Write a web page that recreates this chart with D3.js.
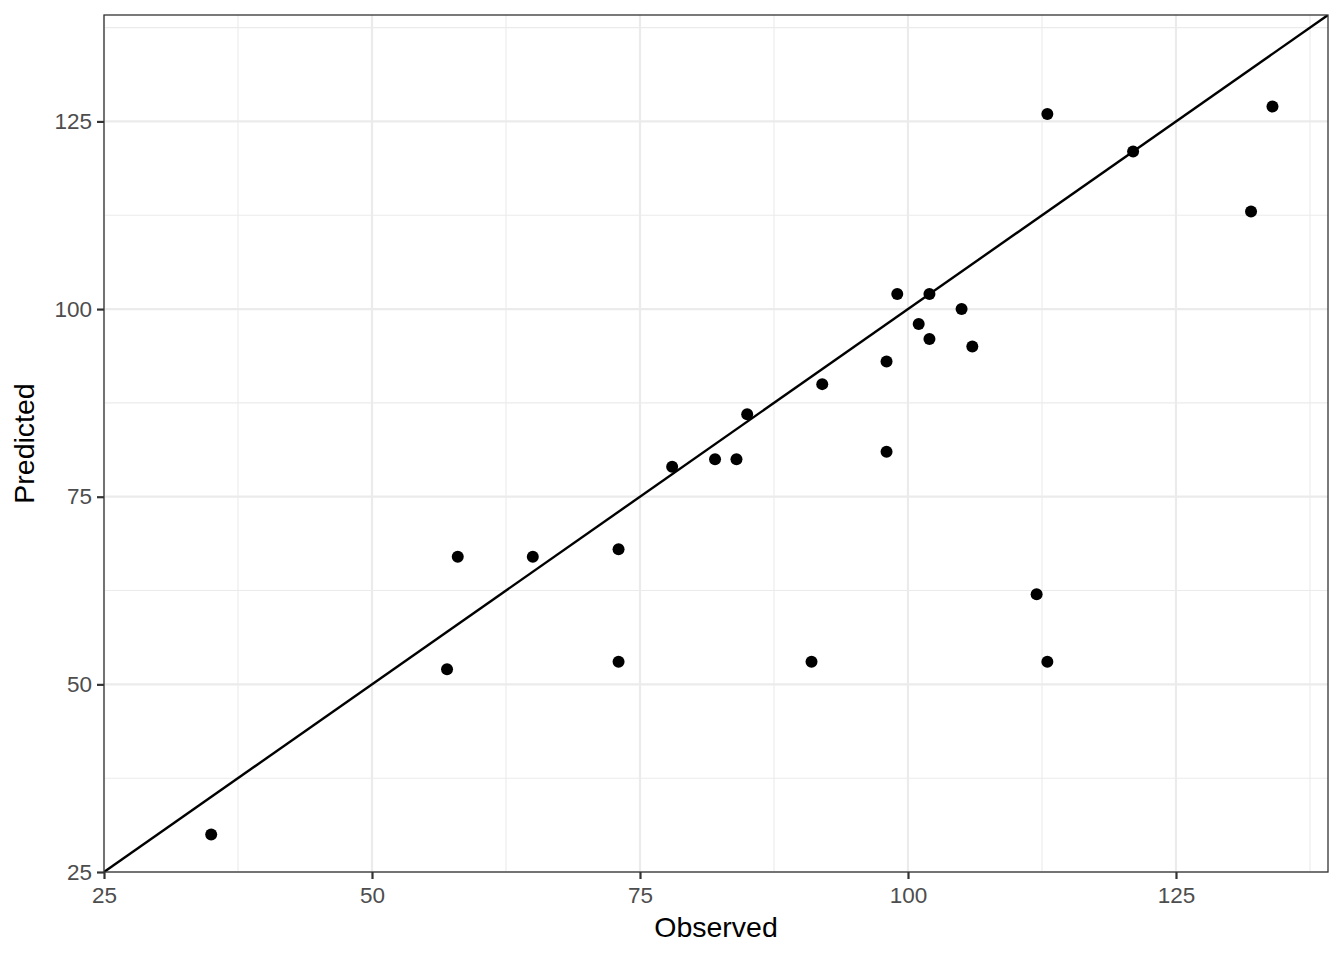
<!DOCTYPE html>
<html><head><meta charset="utf-8">
<script src="https://cdn.jsdelivr.net/npm/d3@7"></script>
<style>body{margin:0;background:#fff;} text{font-family:"Liberation Sans",Arial,sans-serif;}</style>
</head><body>
<svg id="chart" width="1344" height="960"></svg>
<script>
const observed = [35,57,58,65,73,73,78,82,84,85,91,92,98,98,99,101,102,102,105,106,112,113,113,121,132,134];
const predicted = [30,52,67,67,68,53,79,80,80,86,53,90,93,81,102,98,102,96,100,95,62,126,53,121,113,127];
const majorTicks = [25,50,75,100,125];
const minorTicks = [37.5,62.5,87.5,112.5,137.5];
const domain = [25,139.18];

const svg = d3.select("#chart");
const L=104,R=1328,T=15,B=872;
const x = d3.scaleLinear().domain(domain).range([L,R]);
const y = d3.scaleLinear().domain(domain).range([B,T]);

const g = svg.append("g");
g.append("rect").attr("x",L).attr("y",T).attr("width",R-L).attr("height",B-T).attr("fill","#fff");
// minor grid
g.selectAll(".mx").data(minorTicks.filter(d=>d<=domain[1])).enter().append("line")
  .attr("x1",d=>x(d)).attr("x2",d=>x(d)).attr("y1",T).attr("y2",B).attr("stroke","#ebebeb").attr("stroke-width",1.1);
g.selectAll(".my").data(minorTicks.filter(d=>d<=domain[1])).enter().append("line")
  .attr("y1",d=>y(d)).attr("y2",d=>y(d)).attr("x1",L).attr("x2",R).attr("stroke","#ebebeb").attr("stroke-width",1.1);
// major grid
g.selectAll(".Mx").data(majorTicks).enter().append("line")
  .attr("x1",d=>x(d)).attr("x2",d=>x(d)).attr("y1",T).attr("y2",B).attr("stroke","#ebebeb").attr("stroke-width",2.2);
g.selectAll(".My").data(majorTicks).enter().append("line")
  .attr("y1",d=>y(d)).attr("y2",d=>y(d)).attr("x1",L).attr("x2",R).attr("stroke","#ebebeb").attr("stroke-width",2.2);

// identity line
svg.append("defs").append("clipPath").attr("id","clip").append("rect").attr("x",L).attr("y",T).attr("width",R-L).attr("height",B-T);
g.append("line").attr("clip-path","url(#clip)")
  .attr("x1",x(domain[0])).attr("y1",y(domain[0])).attr("x2",x(domain[1])).attr("y2",y(domain[1]))
  .attr("stroke","#000").attr("stroke-width",2.4);

// points
g.selectAll(".pt").data(observed.map((o,i)=>({o,p:predicted[i]}))).enter().append("circle")
  .attr("cx",d=>x(d.o)).attr("cy",d=>y(d.p)).attr("r",6).attr("fill","#000");

// border
g.append("rect").attr("x",L).attr("y",T).attr("width",R-L).attr("height",B-T).attr("fill","none").attr("stroke","#333").attr("stroke-width",1.3);

// axes
const xAxis = d3.axisBottom(x).tickValues(majorTicks).tickSize(7).tickPadding(8);
const yAxis = d3.axisLeft(y).tickValues(majorTicks).tickSize(7).tickPadding(5);
const xa = svg.append("g").attr("transform",`translate(0,${B})`).call(xAxis);
const ya = svg.append("g").attr("transform",`translate(${L},0)`).call(yAxis);
[xa,ya].forEach(a=>{
  a.select(".domain").remove();
  a.selectAll(".tick line").attr("stroke","#333").attr("stroke-width",2.2);
  a.selectAll(".tick text").attr("fill","#4d4d4d").style("font-size","22.5px").style("font-family","Liberation Sans, Arial, sans-serif");
});

svg.append("text").attr("x",(L+R)/2).attr("y",937).attr("text-anchor","middle")
  .style("font-size","28.5px").attr("fill","#000").text("Observed");
svg.append("text").attr("transform",`translate(34,${(T+B)/2}) rotate(-90)`).attr("text-anchor","middle")
  .style("font-size","28.5px").attr("fill","#000").text("Predicted");
</script>
</body></html>
